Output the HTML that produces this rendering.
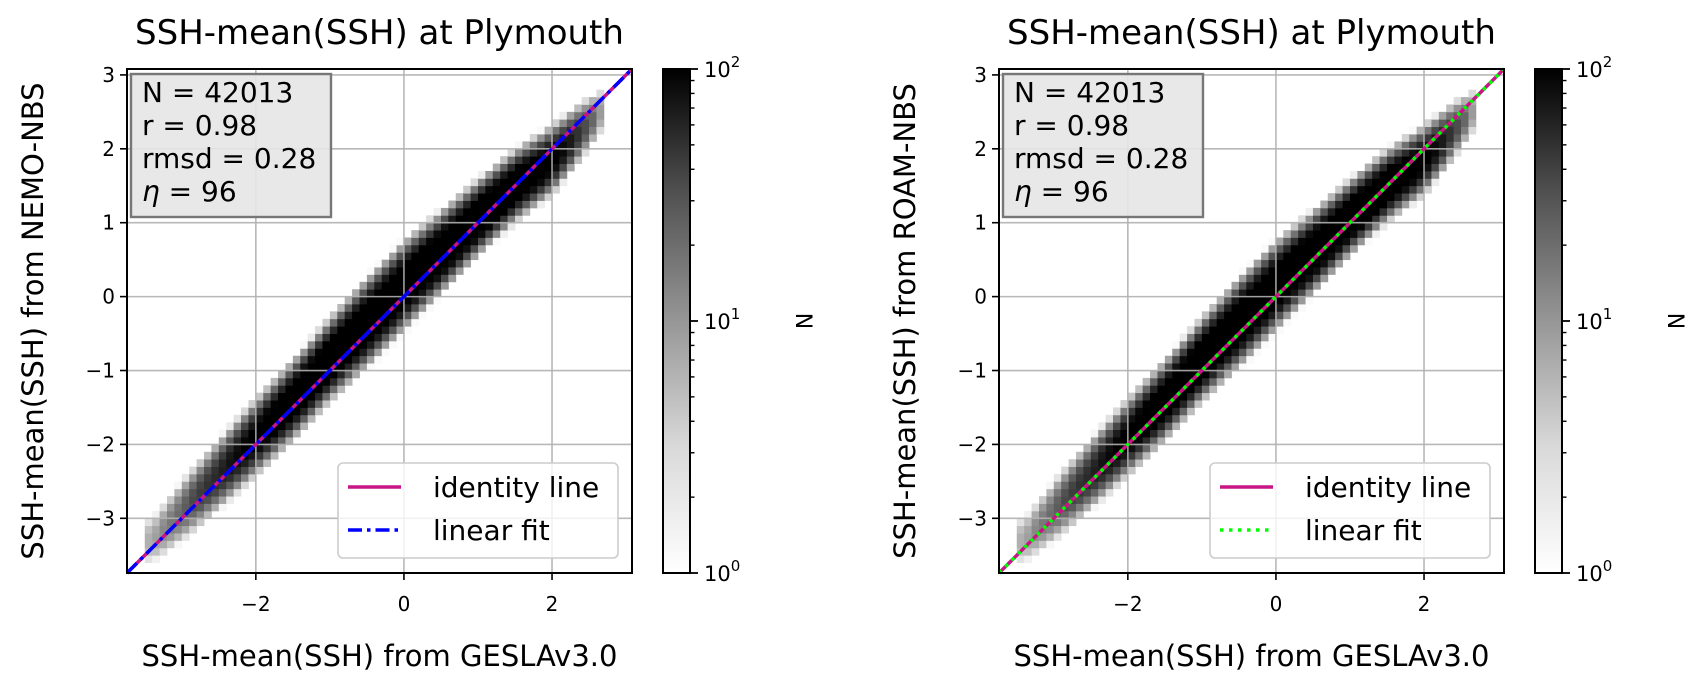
<!DOCTYPE html>
<html><head><meta charset="utf-8"><style>
html,body{margin:0;padding:0;background:#fff;}
svg{display:block;font-family:"DejaVu Sans","Liberation Sans",sans-serif;}
</style></head><body>
<svg id="fig" width="1690" height="686" viewBox="0 0 1690 686" xmlns="http://www.w3.org/2000/svg">
<defs>
<linearGradient id="greys" x1="0" y1="1" x2="0" y2="0">
<stop offset="0" stop-color="#ffffff"/><stop offset="0.25" stop-color="#d9d9d9"/><stop offset="0.5" stop-color="#969696"/><stop offset="0.75" stop-color="#525252"/><stop offset="1" stop-color="#000000"/>
</linearGradient>
</defs>
</svg>
<script>
// ---- data ----
const xKnots     = [-3.4,-3.0,-2.5,-2.0,-1.5,-1.0,-0.5,0.0,0.5,1.0,1.5,2.0,2.4,2.65];
const bandCenter = [-3.3,-2.9,-2.4,-1.9,-1.4,-0.85,-0.35,0.15,0.6,1.07,1.5,1.85,2.25,2.5];
const bandHalf   = [0.3,0.42,0.5,0.55,0.58,0.6,0.65,0.65,0.6,0.55,0.52,0.5,0.4,0.3];
const peakCount  = [4,15,50,120,200,250,250,250,250,250,220,120,30,6];
const axisTicks  = [-3,-2,-1,0,1,2,3];
const xTickVals  = [-2,0,2];
const statsLines = ["N = 42013","r = 0.98","rmsd = 0.28","96"];
const panelModels = ["NEMO-NBS","ROAM-NBS"];

const NS="http://www.w3.org/2000/svg";
const svg=document.getElementById('fig');
function mk(tag,attrs,parent){const e=document.createElementNS(NS,tag);for(const k in attrs)e.setAttribute(k,attrs[k]);(parent||svg).appendChild(e);return e;}

const DMIN=-3.74, DMAX=3.08, BIN=0.1;
function interp(arr,x){
  if(x<=xKnots[0])return arr[0];
  for(let i=0;i<xKnots.length-1;i++){if(x<=xKnots[i+1]){const t=(x-xKnots[i])/(xKnots[i+1]-xKnots[i]);return arr[i]+t*(arr[i+1]-arr[i]);}}
  return arr[arr.length-1];
}
function grey(c){const t=Math.min(1,Math.max(0,Math.log10(c)/2));const v=Math.round(250*(1-t));return `rgb(${v},${v},${v})`;}

function panel(p){
  const L=127+p*872, T=69, W=505, H=504;
  const sx=v=>L+(v-DMIN)/(DMAX-DMIN)*W;
  const sy=v=>T+H-(v-DMIN)/(DMAX-DMIN)*H;
  const g=mk('g',{});
  
  
  const tt=mk('text',{x:L+W/2,y:44,'text-anchor':'middle','font-size':34,fill:'#000'},g);
  tt.textContent='SSH-mean(SSH) at Plymouth';
  
  
  const hm=mk('g',{},g);
  
  
  for(let xb=-3.7;xb<3.0;xb+=BIN){
    const xc=xb+BIN/2;
    if(xc<xKnots[0]-0.1||xc>xKnots[xKnots.length-1]+0.05)continue;
    const c0=interp(bandCenter,xc),h=interp(bandHalf,xc),pk=interp(peakCount,xc);
    const lp=Math.log(pk);
    for(let yb=-3.7;yb<3.0;yb+=BIN){
      const yc=yb+BIN/2,d=Math.abs(yc-c0)/h;
      const cnt=pk*Math.exp(-lp*Math.pow(d,2.2));
      if(cnt<1)continue;
      const r=mk('rect',{x:sx(xb).toFixed(2),y:sy(yb+BIN).toFixed(2),width:(sx(xb+BIN)-sx(xb)+0.4).toFixed(2),height:(sy(yb)-sy(yb+BIN)+0.4).toFixed(2),fill:grey(cnt)},hm);
      
      
    }
  }
  axisTicks.forEach(v=>{
    const gl=mk('line',{x1:L,x2:L+W,y1:sy(v),y2:sy(v),stroke:'#b0b0b0','stroke-width':1.6,'stroke-opacity':0.9},g);
    
    
    const tk=mk('line',{x1:L-7,x2:L,y1:sy(v),y2:sy(v),stroke:'#000','stroke-width':1.6},g);
    
    
    const tl=mk('text',{x:L-12,y:sy(v)+7,'text-anchor':'end','font-size':20},g);
    tl.textContent=(v<0?'\u2212':'')+Math.abs(v);
    
    
  });
  [-2,0,2].forEach(v=>{
    const gl=mk('line',{y1:T,y2:T+H,x1:sx(v),x2:sx(v),stroke:'#b0b0b0','stroke-width':1.6,'stroke-opacity':0.9},g);
    
    
  });
  xTickVals.forEach(v=>{
    const tk=mk('line',{y1:T+H,y2:T+H+7,x1:sx(v),x2:sx(v),stroke:'#000','stroke-width':1.6},g);
    
    
    const tl=mk('text',{x:sx(v),y:T+H+38,'text-anchor':'middle','font-size':20},g);
    tl.textContent=(v<0?'\u2212':'')+Math.abs(v);
    
    
  });
  const il=mk('line',{x1:sx(DMIN),y1:sy(DMIN),x2:sx(DMAX),y2:sy(DMAX),stroke:'#c71585','stroke-width':3.5},g);
  
  
  const fit=p===0?{stroke:'#0000ff',dash:'14,5,3.5,5'}:{stroke:'#00ff00',dash:'3.5,5.5'};
  const fl=mk('line',{x1:sx(DMIN),y1:sy(DMIN),x2:sx(DMAX),y2:sy(DMAX),stroke:fit.stroke,'stroke-width':3.5,'stroke-dasharray':fit.dash},g);
  
  
  const sp=mk('rect',{x:L,y:T,width:W,height:H,fill:'none',stroke:'#000','stroke-width':2},g);
  
  
  const sb=mk('g',{},g);
  
  
  mk('rect',{x:L+4,y:T+5,width:200,height:143,fill:'#e6e6e6','fill-opacity':0.9,stroke:'#777','stroke-width':2.4},sb);
  statsLines.forEach((s,i)=>{
    const t=mk('text',{x:L+15,y:T+33+i*33,'font-size':28},sb);
    if(i===3){t.innerHTML='<tspan font-style="italic">\u03b7</tspan> =  '+s;}else t.textContent=s;
    
    
  });
  const lg=mk('g',{},g);
  
  
  mk('rect',{x:L+211,y:T+394,width:280,height:95,rx:5,fill:'#fff','fill-opacity':0.8,stroke:'#cccccc','stroke-width':1.6},lg);
  mk('line',{x1:L+221,x2:L+274,y1:T+418,y2:T+418,stroke:'#c71585','stroke-width':3.5},lg);
  const t1=mk('text',{x:L+306,y:T+428,'font-size':28},lg);t1.textContent='identity line';
  
  
  mk('line',{x1:L+221,x2:L+274,y1:T+461,y2:T+461,stroke:fit.stroke,'stroke-width':3.5,'stroke-dasharray':fit.dash},lg);
  const t2=mk('text',{x:L+306,y:T+471,'font-size':28},lg);t2.textContent='linear fit';
  
  
  const xl=mk('text',{x:L+W/2,y:666,'text-anchor':'middle','font-size':29},g);
  xl.textContent='SSH-mean(SSH) from GESLAv3.0';
  
  
  const yl=mk('text',{x:0,y:0,'text-anchor':'middle','font-size':29,transform:`translate(${L-84},${T+H/2}) rotate(-90)`},g);
  yl.textContent='SSH-mean(SSH) from '+panelModels[p];
  
  
  const CL=663+p*872, CW=27;
  const cb=mk('g',{},g);
  
  
  mk('rect',{x:CL,y:T,width:CW,height:H,fill:'url(#greys)',stroke:'#000','stroke-width':2},cb);
  const cy=v=>T+H-Math.log10(v)/2*H;
  for(let dec=0;dec<2;dec++){for(let m=2;m<=9;m++){mk('line',{x1:CL+CW,x2:CL+CW+4.5,y1:cy(m*Math.pow(10,dec)),y2:cy(m*Math.pow(10,dec)),stroke:'#000','stroke-width':1.4},cb);}}
  [0,1,2].forEach(e=>{
    mk('line',{x1:CL+CW,x2:CL+CW+8,y1:cy(Math.pow(10,e)),y2:cy(Math.pow(10,e)),stroke:'#000','stroke-width':1.8},cb);
    const t=mk('text',{x:CL+CW+14,y:cy(Math.pow(10,e))+8,'font-size':21},cb);
    t.innerHTML='10<tspan dy="-10" font-size="15">'+e+'</tspan>';
    
    
  });
  const nl=mk('text',{x:0,y:0,'text-anchor':'middle','font-size':22,transform:`translate(${CL+133},${T+H/2}) rotate(90)`},cb);
  nl.textContent='N';
  
  
}
panel(0);panel(1);
</script>
</body></html>
